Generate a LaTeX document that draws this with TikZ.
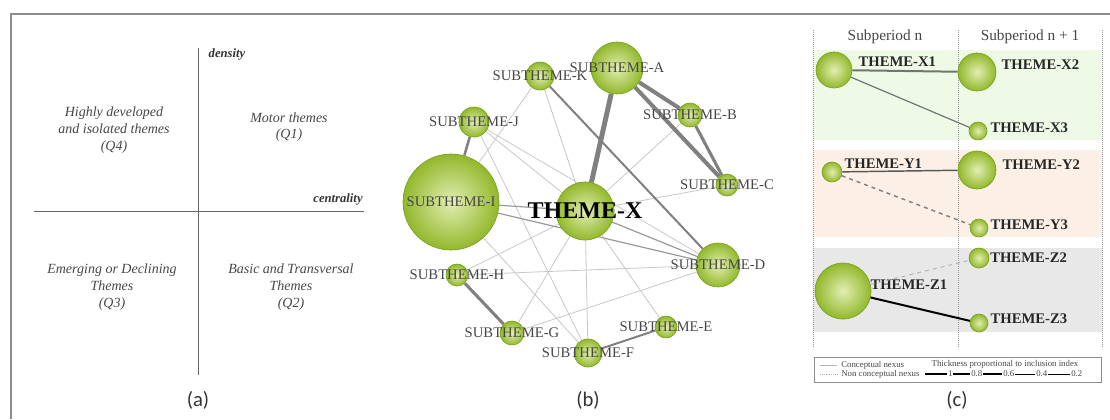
\documentclass[tikz,border=0pt]{standalone}
\usepackage{fontspec}
\setmainfont{Liberation Serif}
\newfontfamily\capfont{Carlito}
\usetikzlibrary{backgrounds}
\definecolor{ballin}{RGB}{226,238,178}
\definecolor{ballout}{RGB}{146,184,44}
\definecolor{ballrim}{RGB}{122,162,30}
\definecolor{bandx}{RGB}{238,250,230}
\definecolor{bandy}{RGB}{252,240,230}
\definecolor{bandz}{RGB}{232,232,232}
\definecolor{txtgray}{RGB}{70,70,70}

\begin{document}
\begin{tikzpicture}[x=0.75pt,y=-0.75pt]
		\tikzset{ball/.style = {shape=circle, draw=ballrim, line width=0.5pt, inner color=ballin, outer color=ballout, inner sep=0pt, minimum size=#1*1.5pt},
			sublbl/.style = {font=\fontsize{11}{11}\selectfont, text=txtgray, inner sep=0pt},
			centlbl/.style = {font=\bfseries\fontsize{18}{18}\selectfont, text=black, inner sep=0pt},
			themelbl/.style = {font=\bfseries\fontsize{11}{11}\selectfont, text=black!85, inner sep=0pt, anchor=west},
			quad/.style = {font=\itshape\fontsize{10.5}{12.5}\selectfont, text=txtgray, align=center},
			axlbl/.style = {font=\bfseries\itshape\fontsize{9.5}{9.5}\selectfont, text=black!80},
			panellbl/.style = {font=\capfont\fontsize{15.5}{15.5}\selectfont, text=black!80},
			legtxt/.style = {font=\fontsize{6.6}{6.6}\selectfont, text=txtgray, inner sep=0pt},
			weak/.style = {draw=black!22, line width=0.6pt},
			medium/.style = {draw=black!40, line width=0.9pt},
			strong/.style = {draw=black!50, line width=#1}}
		\useasboundingbox (0,0) rectangle (1110,419);

		\draw[black!45, line width=1.1pt] (11,419) -- (11,14) -- (1110,14);


		\coordinate (N) at (198,48);
		\coordinate (S) at (198,375);
		\coordinate (W) at (34,211);
		\coordinate (E) at (364,211);
		\draw[black!60, line width=0.7pt] (N)--(S);
		\draw[black!60, line width=0.7pt] (W)--(E);
		\node[axlbl] (dens) at (227,54) {density};
		\node[axlbl] (cent) at (338,199) {centrality};

		\node[quad] (Q4) at (114,130) {Highly developed\\and isolated themes\\(Q4)};
		\node[quad] (Q1) at (289,127) {Motor themes\\(Q1)};
		\node[quad] (Q3) at (112,287) {Emerging or Declining\\Themes\\(Q3)};
		\node[quad] (Q2) at (291,287) {Basic and Transversal\\Themes\\(Q2)};
		\node[panellbl] (Ca) at (198,400) {(a)};


		\node[ball=48, label={[sublbl]center:SUBTHEME-I}] (S_I) at (451,202) {};
		\node[ball=26, label={[sublbl]center:SUBTHEME-A}] (S_A) at (617,68) {};
		\node[ball=14, label={[sublbl]center:SUBTHEME-K}] (S_K) at (540,76) {};
		\node[ball=15, label={[sublbl]center:SUBTHEME-J}] (S_J) at (474,122) {};
		\node[ball=12, label={[sublbl]center:SUBTHEME-B}] (S_B) at (690,115) {};
		\node[ball=11, label={[sublbl]center:SUBTHEME-C}] (S_C) at (727,185) {};
		\node[ball=22, label={[sublbl]center:SUBTHEME-D}] (S_D) at (718,265) {};
		\node[ball=11, label={[sublbl]center:SUBTHEME-H}] (S_H) at (457,275) {};
		\node[ball=12, label={[sublbl]center:SUBTHEME-G}] (S_G) at (512,333) {};
		\node[ball=14, label={[sublbl]center:SUBTHEME-F}] (S_F) at (588,353) {};
		\node[ball=11, label={[sublbl]center:SUBTHEME-E}] (S_E) at (666,327) {};
		\node[ball=29, label={[centlbl]center:THEME-X}] (T_X) at (585,211) {};
		\node[panellbl] (Cb) at (588,400) {(b)};

		\begin{scope}[on background layer]
		\draw[weak] (S_K)--(S_I);
		\draw[weak] (S_K)--(T_X);
		\draw[weak] (S_J)--(T_X);
		\draw[weak] (S_J)--(S_D);
		\draw[weak] (S_J)--(S_F);
		\draw[weak] (S_I)--(S_F);
		\draw[weak] (S_B)--(T_X);
		\draw[weak] (S_C)--(T_X);
		\draw[weak] (T_X)--(S_H);
		\draw[weak] (T_X)--(S_G);
		\draw[weak] (T_X)--(S_F);
		\draw[weak] (T_X)--(S_E);
		\draw[weak] (S_H)--(S_D);
		\draw[weak] (S_G)--(S_D);
		\draw[medium] (S_I)--(T_X);
		\draw[medium] (S_I)--(S_D);
		\draw[medium] (T_X)--(S_D);
		\draw[strong=1.5pt] (S_K)--(S_D);
		\draw[strong=1.5pt] (S_F)--(S_E);
		\draw[strong=1.9pt] (S_J)--(S_I);
		\draw[strong=2.3pt] (S_H)--(S_G);
		\draw[strong=2.3pt] (S_B)--(S_C);
		\draw[strong=3pt] (S_A)--(S_B);
		\draw[strong=3pt] (S_A)--(S_C);
		\draw[strong=3.7pt] (S_A)--(T_X);
		\end{scope}


		\fill[bandx] (813,50) rectangle (1102,140);
		\fill[bandy] (813,150) rectangle (1102,237);
		\fill[bandz] (813,248) rectangle (1102,332);
		\foreach \x in {813,958,1102}
			\draw[black!40, densely dotted, line width=0.5pt] (\x,30) -- (\x,348);
		\node[font=\fontsize{11.5}{11.5}\selectfont, text=txtgray] (P_1) at (885,37) {Subperiod n};
		\node[font=\fontsize{11.5}{11.5}\selectfont, text=txtgray] (P_2) at (1030,37) {Subperiod n + 1};

		\node[ball=18, label={[themelbl, shift={(4.5pt,6pt)}]east:THEME-X1}] (X_1) at (834,70) {};
		\node[ball=19, label={[themelbl, shift={(3.8pt,5.3pt)}]east:THEME-X2}] (X_2) at (977,72) {};
		\node[ball=9, label={[themelbl, shift={(2.2pt,2.2pt)}]east:THEME-X3}] (X_3) at (978,131) {};
		\node[ball=10, label={[themelbl, shift={(1.5pt,6pt)}]east:THEME-Y1}] (Y_1) at (832,172) {};
		\node[ball=19, label={[themelbl, shift={(4.5pt,3.8pt)}]east:THEME-Y2}] (Y_2) at (977,170) {};
		\node[ball=9, label={[themelbl, shift={(1.5pt,2.2pt)}]east:THEME-Y3}] (Y_3) at (979,228) {};
		\node[ball=28, label={[themelbl, shift={(-0.8pt,4.5pt)}]east:THEME-Z1}] (Z_1) at (843,291) {};
		\node[ball=10, label={[themelbl, shift={(0.5pt,0pt)}]east:THEME-Z2}] (Z_2) at (979,258) {};
		\node[ball=9, label={[themelbl, shift={(1.5pt,3pt)}]east:THEME-Z3}] (Z_3) at (979,323) {};

		\draw[black!55, line width=1.5pt] (X_1)--(X_2);
		\draw[black!55, line width=0.9pt] (X_1)--(X_3);
		\draw[black!65, line width=1.1pt] (Y_1)--(Y_2);
		\draw[black!50, line width=1.1pt, dashed] (Y_1)--(Y_3);
		\draw[black!30, line width=0.7pt, dashed] (Z_1)--(Z_2);
		\draw[black, line width=1.5pt] (Z_1)--(Z_3);

		\draw[black!45, line width=0.6pt] (814,357) rectangle (1101,382);
		\draw[black!30, line width=0.4pt] (820,365) -- (837,365);
		\draw[black!30, line width=0.4pt, densely dotted] (820,374) -- (837,374);
		\node[legtxt, anchor=west] (L_1) at (841,365) {Conceptual nexus};
		\node[legtxt, anchor=west] (L_2) at (841,374) {Non conceptual nexus};
		\node[legtxt] (L_3) at (1005,364) {Thickness proportional to inclusion index};
		\draw[black, line width=1.5pt] (925,374) -- (947,374);
		\node[legtxt, anchor=west] (W_1) at (948,374) {1};
		\draw[black, line width=1.1pt] (953,374) -- (970,374);
		\node[legtxt, anchor=west] (W_2) at (971,374) {0.8};
		\draw[black, line width=0.8pt] (983,374) -- (1002,374);
		\node[legtxt, anchor=west] (W_3) at (1003,374) {0.6};
		\draw[black, line width=0.5pt] (1015,374) -- (1035,374);
		\node[legtxt, anchor=west] (W_4) at (1036,374) {0.4};
		\draw[black, line width=0.3pt] (1048,374) -- (1070,374);
		\node[legtxt, anchor=west] (W_5) at (1071,374) {0.2};
		\node[panellbl] (Cc) at (957,400) {(c)};

	\end{tikzpicture}
\end{document}
